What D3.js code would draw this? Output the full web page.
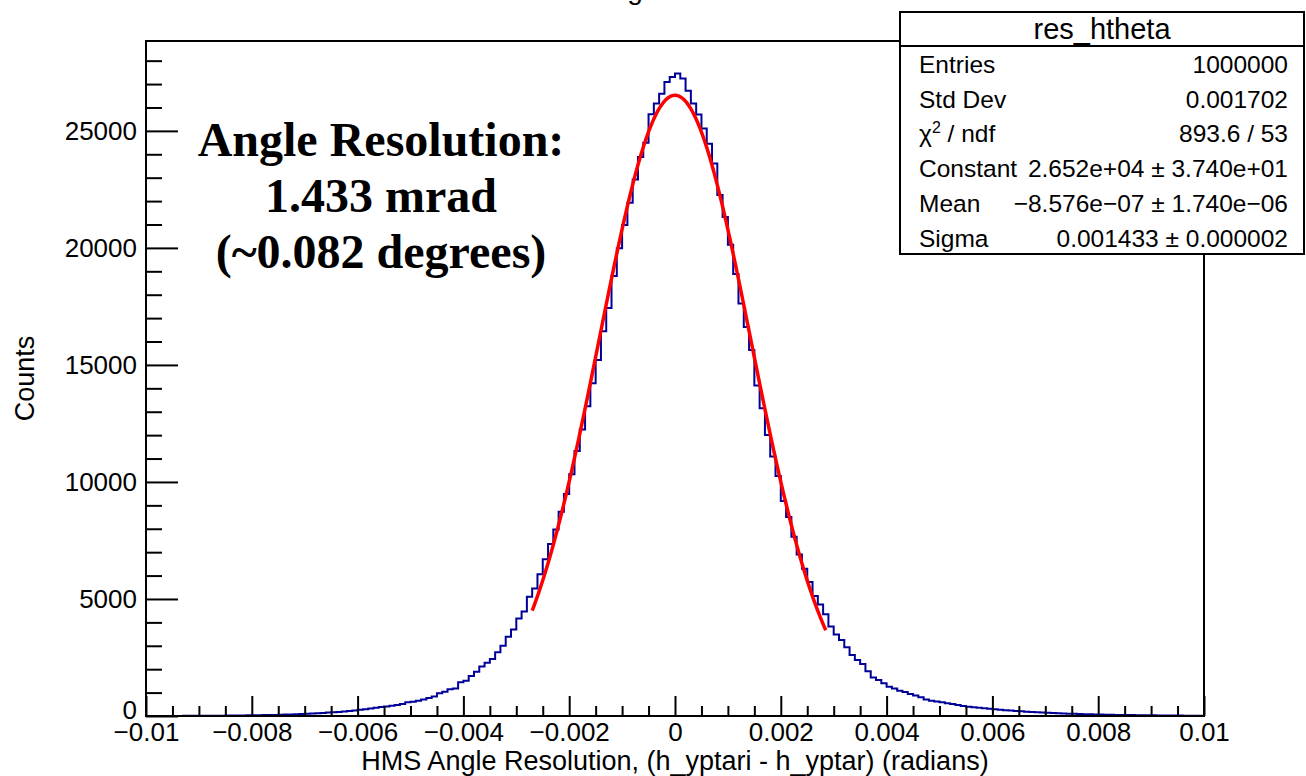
<!DOCTYPE html>
<html><head><meta charset="utf-8">
<script src="https://cdn.jsdelivr.net/npm/d3@7"></script>
<style>body{margin:0;background:#fff;} svg{display:block;}</style>
</head><body><svg id="c" width="1306" height="776"></svg>
<script>
// ---------------- data ----------------
const binLow = -0.01, binHigh = 0.01;
const binCounts = [
  2, 3, 3, 4, 4, 5, 5, 6, 7, 8,
  9, 10, 12, 13, 15, 17, 19, 21, 24, 27,
  30, 34, 38, 43, 48, 54, 60, 68, 76, 85,
  95, 105, 118, 130, 145, 160, 175, 195, 215, 240,
  265, 290, 320, 350, 380, 410, 440, 470, 510, 590,
  610, 650, 710, 770, 830, 970, 1040, 1140, 1180, 1440,
  1510, 1710, 1890, 2110, 2280, 2440, 2720, 3000, 3390, 3700,
  4170, 4460, 5100, 5450, 6060, 6700, 7350, 7970, 8730, 9490,
  10330, 11320, 12240, 13230, 14220, 15210, 16440, 17430, 18800, 19990,
  20980, 21930, 22920, 23880, 24490, 25710, 26170, 26590, 27090, 27300,
  27450, 27240, 26710, 26170, 25700, 25100, 24450, 23610, 22260, 21320,
  20130, 18880, 17620, 16620, 15640, 14120, 13150, 12010, 11090, 10250,
  9190, 8500, 7660, 6900, 6290, 5730, 5130, 4760, 4350, 3820,
  3480, 3250, 2940, 2610, 2390, 2220, 1910, 1650, 1540, 1400,
  1250, 1170, 1080, 1030, 940, 880, 800, 710, 650, 620,
  590, 540, 510, 470, 430, 400, 375, 350, 330, 310,
  290, 270, 250, 235, 215, 200, 185, 170, 160, 148,
  136, 127, 118, 108, 100, 93, 86, 79, 73, 67,
  62, 57, 52, 48, 44, 41, 38, 35, 32, 29,
  27, 25, 23, 21, 19, 17, 16, 14, 13, 12
];
const fitConstant = 26520;
const fitMean = -8.576e-7;
const fitSigma = 0.001433;
const fitRange = [-0.0027, 0.00285];
const yMax = 28840;

const xTickValues = [-0.01, -0.008, -0.006, -0.004, -0.002, 0, 0.002, 0.004, 0.006, 0.008, 0.01];
const xTickLabels = ["\u22120.01", "\u22120.008", "\u22120.006", "\u22120.004", "\u22120.002", "0", "0.002", "0.004", "0.006", "0.008", "0.01"];
const xMinorStep = 0.0005;
const yTickValues = [0, 5000, 10000, 15000, 20000, 25000];
const yTickLabels = ["0", "5000", "10000", "15000", "20000", "25000"];
const yMinorStep = 1000;

const xTitle = "HMS Angle Resolution, (h_yptari - h_yptar) (radians)";
const yTitle = "Counts";
const statsTitle = "res_htheta";
const statsLabels = ["Entries", "Std Dev", "\u03C7\u00B2 / ndf", "Constant", "Mean", "Sigma"];
const statsValues = ["1000000", "0.001702", "893.6 / 53", "2.652e+04 \u00B1 3.740e+01", "\u22128.576e\u221207 \u00B1 1.740e\u221206", "0.001433 \u00B1 0.000002"];
const annotationLines = ["Angle Resolution:", "1.433 mrad", "(~0.082 degrees)"];

// ---------------- layout ----------------
const svg = d3.select("#c");
const L = 146, R = 1204, T = 41, B = 716;
const sans = "'Liberation Sans', Arial, Helvetica, sans-serif";
const serif = "'Liberation Serif', 'Times New Roman', serif";

const x = d3.scaleLinear().domain([binLow, binHigh]).range([L, R]);
const y = d3.scaleLinear().domain([0, yMax]).range([B, T]);

svg.append("rect").attr("width", 1306).attr("height", 776).attr("fill", "#fff");

// title fragment (mostly above the canvas, as in the reference)
svg.append("text").attr("x", 635).attr("y", -1).attr("text-anchor", "middle")
  .attr("font-family", sans).attr("font-size", 28).text("g");

// histogram
const nb = binCounts.length;
const bw = (binHigh - binLow) / nb;
const pts = binCounts.map((c, i) => [binLow + i * bw, c]);
pts.push([binHigh, binCounts[nb - 1]]);
const histLine = d3.line().x(d => x(d[0])).y(d => y(d[1])).curve(d3.curveStepAfter);
svg.append("path").attr("d", histLine(pts)).attr("fill", "none")
  .attr("stroke", "#000099").attr("stroke-width", 2);

// fit
const fitX = d3.range(0, 401).map(i => fitRange[0] + (fitRange[1] - fitRange[0]) * i / 400);
const fitPts = fitX.map(v => [v, fitConstant * Math.exp(-0.5 * Math.pow((v - fitMean) / fitSigma, 2))]);
svg.append("path").attr("d", d3.line().x(d => x(d[0])).y(d => y(d[1]))(fitPts))
  .attr("fill", "none").attr("stroke", "#ff0000").attr("stroke-width", 3.5);

// axes
const xMinor = d3.range(0, 41).map(i => binLow + i * xMinorStep).filter(v => !xTickValues.some(t => Math.abs(t - v) < 1e-9));
const yMinor = d3.range(0, Math.floor(yMax / yMinorStep) + 1).map(i => i * yMinorStep).filter(v => v % 5000 !== 0);

const gx = svg.append("g").attr("transform", `translate(0,${B})`)
  .call(d3.axisBottom(x).tickValues(xTickValues).tickSize(-20).tickPadding(7)
    .tickFormat((d, i) => xTickLabels[i]));
const gxm = svg.append("g").attr("transform", `translate(0,${B})`)
  .call(d3.axisBottom(x).tickValues(xMinor).tickSize(-10).tickFormat(""));
const gy = svg.append("g").attr("transform", `translate(${L},0)`)
  .call(d3.axisLeft(y).tickValues(yTickValues).tickSize(-32).tickPadding(9)
    .tickFormat((d, i) => yTickLabels[i]));
const gym = svg.append("g").attr("transform", `translate(${L},0)`)
  .call(d3.axisLeft(y).tickValues(yMinor).tickSize(-16).tickFormat(""));
[gx, gxm, gy, gym].forEach(g => {
  g.select(".domain").remove();
  g.selectAll("line").attr("stroke", "#000").attr("stroke-width", 2);
  g.selectAll("text").attr("font-family", sans).attr("font-size", 26).attr("fill", "#000");
});
gx.selectAll("text").attr("dy", "0.68em");
gy.selectAll("text").filter(d => d === 0).attr("dy", "0.1em");

// frame
svg.append("rect").attr("x", L).attr("y", T).attr("width", R - L).attr("height", B - T)
  .attr("fill", "none").attr("stroke", "#000").attr("stroke-width", 2);

// axis titles
svg.append("text").attr("x", (L + R) / 2).attr("y", 770).attr("text-anchor", "middle")
  .attr("font-family", sans).attr("font-size", 27).text(xTitle);
svg.append("text").attr("transform", `translate(34,${(T + B) / 2}) rotate(-90)`)
  .attr("text-anchor", "middle").attr("font-family", sans).attr("font-size", 27).text(yTitle);

// annotation
const annY = [156, 212, 268];
annotationLines.forEach((t, i) => {
  svg.append("text").attr("x", 381).attr("y", annY[i]).attr("text-anchor", "middle")
    .attr("font-family", serif).attr("font-weight", "bold").attr("font-size", 48).text(t);
});

// stats box
const bx0 = 900, bx1 = 1304, by0 = 12, by1 = 254, hdr = 46;
svg.append("rect").attr("x", bx0).attr("y", by0).attr("width", bx1 - bx0).attr("height", by1 - by0)
  .attr("fill", "#fff").attr("stroke", "#000").attr("stroke-width", 2);
svg.append("line").attr("x1", bx0).attr("x2", bx1).attr("y1", hdr).attr("y2", hdr)
  .attr("stroke", "#000").attr("stroke-width", 2);
svg.append("text").attr("x", (bx0 + bx1) / 2).attr("y", 39).attr("text-anchor", "middle")
  .attr("font-family", sans).attr("font-size", 29).text(statsTitle);
statsLabels.forEach((lab, i) => {
  const yy = 73 + i * 34.7;
  const t = svg.append("text").attr("x", 919).attr("y", yy).attr("font-family", sans).attr("font-size", 24.5);
  if (lab.indexOf("\u00B2") >= 0) {
    t.append("tspan").text("\u03C7");
    t.append("tspan").attr("font-size", 16).attr("dy", -9).text("2");
    t.append("tspan").attr("dy", 9).text(" / ndf");
  } else t.text(lab);
  svg.append("text").attr("x", 1288).attr("y", yy).attr("text-anchor", "end")
    .attr("font-family", sans).attr("font-size", 24.5).text(statsValues[i]);
});
</script>
</body></html>
